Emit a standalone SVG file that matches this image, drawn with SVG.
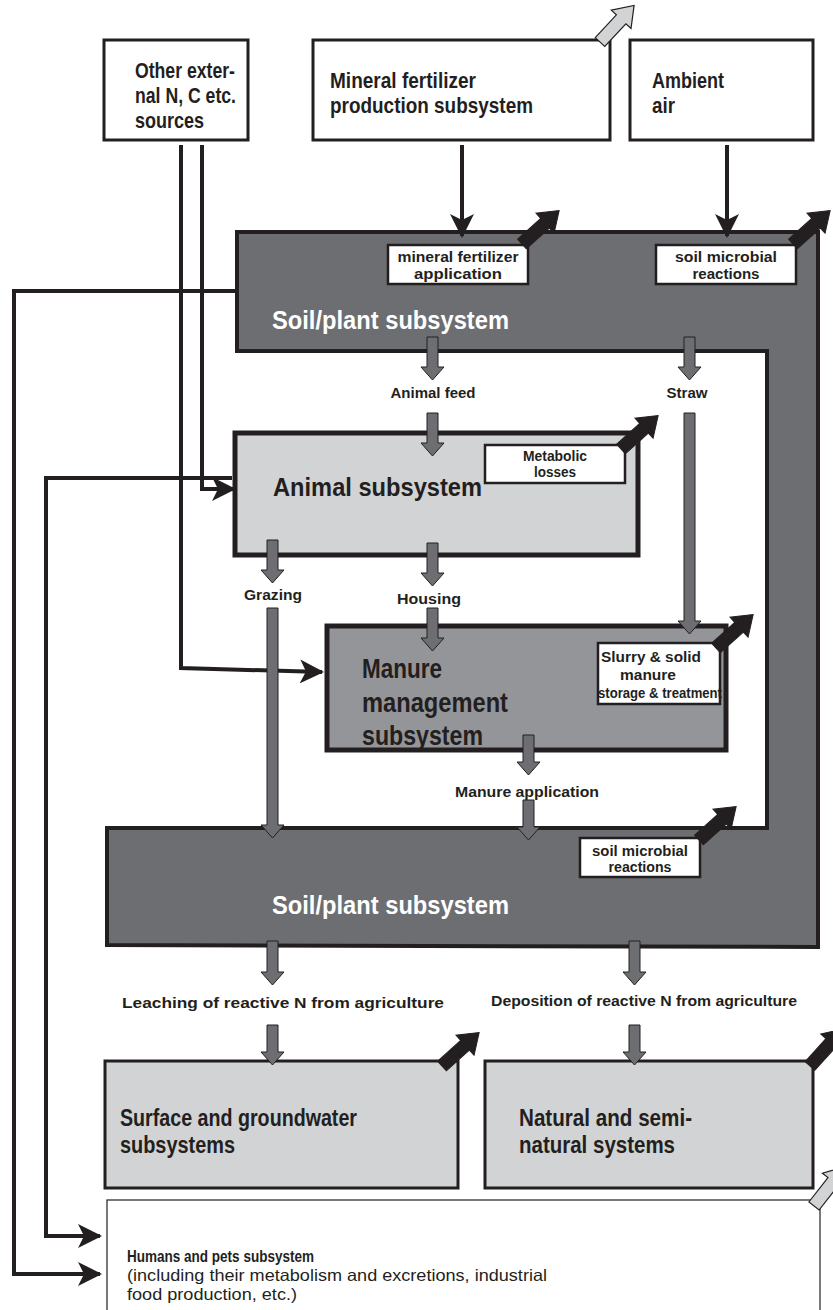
<svg xmlns="http://www.w3.org/2000/svg" width="833" height="1310" viewBox="0 0 833 1310">
<style>
text{font-family:"Liberation Sans",Arial,sans-serif;font-weight:bold;fill:#231f20}
.top{font-size:22.5px}
.sys{font-size:26px}
.big{font-size:24px}
.sm{font-size:14px}
.w{fill:#ffffff}
.c{text-anchor:middle}
.box{fill:#ffffff;stroke:#231f20;stroke-width:3}
.lbl{fill:#ffffff;stroke:#231f20;stroke-width:2.5}
.ga{fill:#6d6e71;stroke:#231f20;stroke-width:1}
.ba{fill:#231f20;stroke:#231f20;stroke-width:1}
.ha{fill:#d1d3d4;stroke:#231f20;stroke-width:1.2}
.ln{fill:none;stroke:#231f20;stroke-width:4}
</style>
<defs>
<path id="diag" d="M0,-6.5 H31 V-13.5 L50,0 L31,13.5 V6.5 H0 Z"/>
<marker id="ah" markerUnits="userSpaceOnUse" markerWidth="26" markerHeight="26" refX="22" refY="12" orient="auto" viewBox="0 0 26 24">
<path d="M0,0 L24,12 L0,24 L6,12 Z" fill="#231f20"/>
</marker>
</defs>

<g id="soil-plant">
<path d="M237,232 H818 V947 L107,945 V828 H767 V351 H237 Z" fill="#6d6e71" stroke="#231f20" stroke-width="4"/>
<text class="sys w" x="272" y="329" textLength="237" lengthAdjust="spacingAndGlyphs">Soil/plant subsystem</text>
<text class="sys w" x="272" y="914" textLength="237" lengthAdjust="spacingAndGlyphs">Soil/plant subsystem</text>
</g>

<g id="other-sources">
<rect class="box" x="104" y="40" width="144" height="100"/>
<text class="top" x="135" y="78" textLength="100" lengthAdjust="spacingAndGlyphs">Other exter-</text>
<text class="top" x="135" y="103" textLength="101" lengthAdjust="spacingAndGlyphs">nal N, C etc.</text>
<text class="top" x="135" y="128" textLength="69" lengthAdjust="spacingAndGlyphs">sources</text>
</g>

<g id="mineral-production">
<rect class="box" x="313" y="40" width="297" height="100"/>
<text class="top" x="330" y="88" textLength="146" lengthAdjust="spacingAndGlyphs">Mineral fertilizer</text>
<text class="top" x="330" y="113" textLength="203" lengthAdjust="spacingAndGlyphs">production subsystem</text>
<use href="#diag" class="ha" transform="translate(600,42) rotate(-47)"/>
</g>

<g id="ambient-air">
<rect class="box" x="630" y="40" width="183" height="100"/>
<text class="top" x="652" y="88" textLength="72" lengthAdjust="spacingAndGlyphs">Ambient</text>
<text class="top" x="652" y="113" textLength="23" lengthAdjust="spacingAndGlyphs">air</text>
</g>

<g id="mineral-application">
<rect class="lbl" x="388" y="245" width="140" height="39"/>
<text class="sm c" x="458" y="262" textLength="121" lengthAdjust="spacingAndGlyphs">mineral fertilizer</text>
<text class="sm c" x="458" y="279" textLength="88" lengthAdjust="spacingAndGlyphs">application</text>
<use href="#diag" class="ba" transform="translate(522,244) rotate(-42)"/>
</g>

<g id="soil-microbial-top">
<rect class="lbl" x="656" y="245" width="140" height="39"/>
<text class="sm c" x="726" y="262" textLength="102" lengthAdjust="spacingAndGlyphs">soil microbial</text>
<text class="sm c" x="726" y="279" textLength="67" lengthAdjust="spacingAndGlyphs">reactions</text>
<use href="#diag" class="ba" transform="translate(793,244) rotate(-42)"/>
</g>

<g id="animal">
<rect x="235" y="433" width="403" height="122" fill="#d1d3d4" stroke="#231f20" stroke-width="5"/>
<text class="sys" x="273" y="496" textLength="209" lengthAdjust="spacingAndGlyphs">Animal subsystem</text>
</g>

<g id="metabolic-losses">
<rect class="lbl" x="485" y="445" width="140" height="38"/>
<text class="sm c" x="555" y="461" textLength="64" lengthAdjust="spacingAndGlyphs">Metabolic</text>
<text class="sm c" x="555" y="477" textLength="42" lengthAdjust="spacingAndGlyphs">losses</text>
<use href="#diag" class="ba" transform="translate(621,449) rotate(-42)"/>
</g>

<g id="manure">
<rect x="327" y="626" width="399" height="124" fill="#939598" stroke="#231f20" stroke-width="5"/>
<text x="362" y="678" style="font-size:27px" textLength="80" lengthAdjust="spacingAndGlyphs">Manure</text>
<text x="362" y="712" style="font-size:27px" textLength="146" lengthAdjust="spacingAndGlyphs">management</text>
<text x="362" y="745" style="font-size:27px" textLength="121" lengthAdjust="spacingAndGlyphs">subsystem</text>
</g>

<g id="slurry">
<rect class="lbl" x="598" y="643" width="122" height="61"/>
<text class="sm c" x="651" y="662" textLength="100" lengthAdjust="spacingAndGlyphs">Slurry &amp; solid</text>
<text class="sm c" x="648" y="680" textLength="56" lengthAdjust="spacingAndGlyphs">manure</text>
<text class="sm c" x="660" y="698" textLength="124" lengthAdjust="spacingAndGlyphs">storage &amp; treatment</text>
<use href="#diag" class="ba" transform="translate(716,648) rotate(-42)"/>
</g>

<g id="soil-microbial-bottom">
<rect class="lbl" x="580" y="838" width="120" height="39"/>
<text class="sm c" x="640" y="856" textLength="96" lengthAdjust="spacingAndGlyphs">soil microbial</text>
<text class="sm c" x="640" y="872" textLength="63" lengthAdjust="spacingAndGlyphs">reactions</text>
<use href="#diag" class="ba" transform="translate(699,840) rotate(-42)"/>
</g>

<g id="surface-water">
<rect x="105" y="1061" width="353" height="127" fill="#d1d3d4" stroke="#231f20" stroke-width="3"/>
<text class="big" x="120" y="1126" textLength="237" lengthAdjust="spacingAndGlyphs">Surface and groundwater</text>
<text class="big" x="120" y="1153" textLength="115" lengthAdjust="spacingAndGlyphs">subsystems</text>
<use href="#diag" class="ba" transform="translate(442,1066) rotate(-42)"/>
</g>

<g id="natural-systems">
<rect x="485" y="1061" width="328" height="127" fill="#d1d3d4" stroke="#231f20" stroke-width="3"/>
<text class="big" x="519" y="1126" textLength="173" lengthAdjust="spacingAndGlyphs">Natural and semi-</text>
<text class="big" x="519" y="1153" textLength="156" lengthAdjust="spacingAndGlyphs">natural systems</text>
<use href="#diag" class="ba" transform="translate(810,1066) rotate(-48)"/>
</g>

<g id="humans">
<rect x="107" y="1200" width="713" height="120" fill="#ffffff" stroke="#231f20" stroke-width="1.2"/>
<text x="127" y="1262" style="font-size:16.5px" textLength="187" lengthAdjust="spacingAndGlyphs">Humans and pets subsystem</text>
<text x="127" y="1281" style="font-size:16.5px;font-weight:normal" textLength="420" lengthAdjust="spacingAndGlyphs">(including their metabolism and excretions, industrial</text>
<text x="127" y="1300" style="font-size:16.5px;font-weight:normal" textLength="170" lengthAdjust="spacingAndGlyphs">food production, etc.)</text>
<use href="#diag" class="ha" transform="translate(814,1206) rotate(-52)"/>
</g>

<g id="connectors">
<path class="ln" d="M462,145 V236" marker-end="url(#ah)"/>
<path class="ln" d="M727,145 V236" marker-end="url(#ah)"/>
<path class="ln" d="M202,145 V489 H234" marker-end="url(#ah)"/>
<path class="ln" d="M181,145 V668 L322,672" marker-end="url(#ah)"/>
<path class="ln" d="M237,291 H14 V1274 H100" marker-end="url(#ah)"/>
<path class="ln" d="M232,478 H46 V1236 H100" marker-end="url(#ah)"/>

<path class="ga" d="M427,337 V367 H421 L432.5,380 L444,367 H438 V337 Z"/>
<path class="ga" d="M684,337 V367 H678 L689.5,380 L701,367 H695 V337 Z"/>
<text class="sm c" x="433" y="398" textLength="85" lengthAdjust="spacingAndGlyphs">Animal feed</text>
<text class="sm c" x="687" y="398" textLength="41" lengthAdjust="spacingAndGlyphs">Straw</text>
<path class="ga" d="M427,413 V443 H421 L432.5,456 L444,443 H438 V413 Z"/>
<path class="ga" d="M684,413 V621 H678 L689.5,634 L701,621 H695 V413 Z"/>

<path class="ga" d="M267,540 V570 H261 L272.5,583 L284,570 H278 V540 Z"/>
<path class="ga" d="M427,543 V573 H421 L432.5,586 L444,573 H438 V543 Z"/>
<text class="sm c" x="273" y="600" textLength="58" lengthAdjust="spacingAndGlyphs">Grazing</text>
<text class="sm c" x="429" y="604" textLength="64" lengthAdjust="spacingAndGlyphs">Housing</text>
<path class="ga" d="M267,608 V825 H261 L272.5,838 L284,825 H278 V608 Z"/>
<path class="ga" d="M427,608 V638 H421 L432.5,651 L444,638 H438 V608 Z"/>

<path class="ga" d="M523,735 V762 H517 L528.5,775 L540,762 H534 V735 Z"/>
<text class="sm c" x="527" y="797" textLength="144" lengthAdjust="spacingAndGlyphs">Manure application</text>
<path class="ga" d="M523,800 V827 H517 L528.5,840 L540,827 H534 V800 Z"/>

<path class="ga" d="M267,941 V972 H261 L272.5,985 L284,972 H278 V941 Z"/>
<path class="ga" d="M629,941 V972 H623 L634.5,985 L646,972 H640 V941 Z"/>
<text class="sm c" x="283" y="1008" textLength="322" lengthAdjust="spacingAndGlyphs">Leaching of reactive N from agriculture</text>
<text class="sm c" x="644" y="1006" textLength="306" lengthAdjust="spacingAndGlyphs">Deposition of reactive N from agriculture</text>
<path class="ga" d="M267,1025 V1052 H261 L272.5,1065 L284,1052 H278 V1025 Z"/>
<path class="ga" d="M629,1025 V1052 H623 L634.5,1065 L646,1052 H640 V1025 Z"/>
</g>
</svg>
